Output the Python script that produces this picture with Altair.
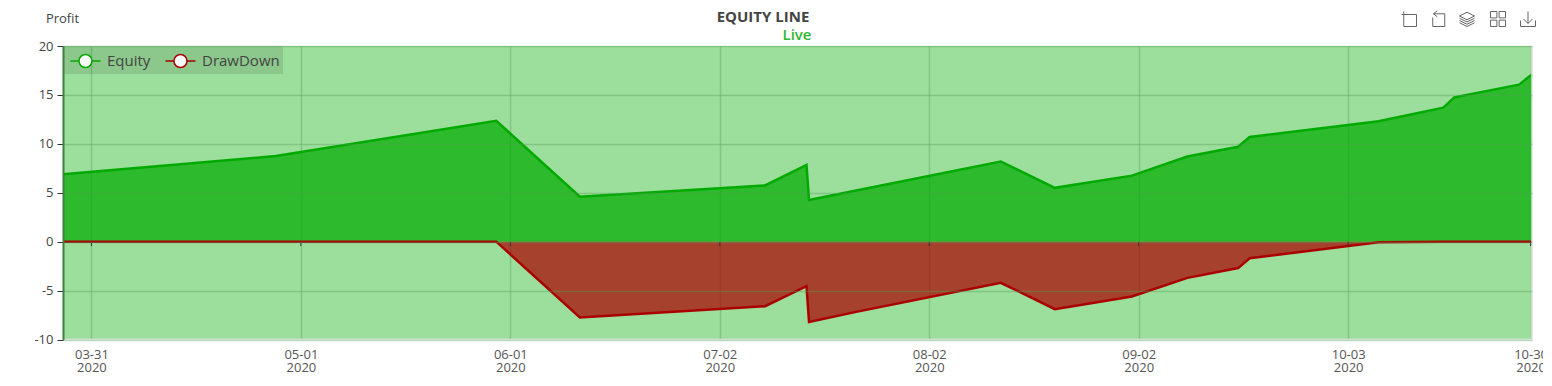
import altair as alt
import pandas as pd

FONT = "Open Sans"

equity_dates = ["2020-03-26T19:00:00Z", "2020-04-27T07:00:00Z", "2020-05-29T22:00:00Z", "2020-06-11T07:00:00Z",
                "2020-07-08T17:00:00Z", "2020-07-14T20:00:00Z", "2020-07-15T05:00:00Z", "2020-07-22T00:00:00Z",
                "2020-08-12T14:00:00Z", "2020-08-20T14:00:00Z", "2020-09-01T00:00:00Z", "2020-09-09T05:00:00Z",
                "2020-09-16T17:00:00Z", "2020-09-18T10:00:00Z", "2020-10-07T12:00:00Z", "2020-10-17T02:00:00Z",
                "2020-10-18T17:00:00Z", "2020-10-28T07:00:00Z", "2020-10-30T05:00:00Z"]
equity_values = [6.9, 8.75, 12.35, 4.6, 5.75, 7.85, 4.25, 5.2, 8.2, 5.5, 6.75, 8.7, 9.7, 10.7, 12.3, 13.7, 14.75, 16.05, 17.1]
drawdown_values = [0, 0, 0, -7.75, -6.6, -4.55, -8.2, -7.2, -4.2, -6.9, -5.6, -3.7, -2.7, -1.7, -0.05, 0, 0, 0, 0]
x_ticks = ["2020-03-31T00:00:00Z", "2020-05-01T00:00:00Z", "2020-06-01T00:00:00Z", "2020-07-02T00:00:00Z",
           "2020-08-02T00:00:00Z", "2020-09-02T00:00:00Z", "2020-10-03T00:00:00Z", "2020-10-30T00:00:00Z"]
y_ticks = [-10, -5, 0, 5, 10, 15, 20]
series_names = ["Equity", "DrawDown"]
series_colors = ["#00aa00", "#aa0000"]

LEGEND_SYMBOL = "M-0.67,0H0.14M1.38,0H2.19M1.38,0A0.62,0.62 0 1 1 0.14,0A0.62,0.62 0 1 1 1.38,0Z"
ICONS = [
    (1409, "M-0.7,-1V1H1V-0.6H-1"),
    (1438, "M-0.6,-0.7H0.9V1H-0.7V-0.2M-0.6,-0.7L-0.1,-1.1M-0.6,-0.7L-0.1,-0.3"),
    (1467, "M0,-0.9L1,-0.4L0,0.1L-1,-0.4ZM-1,-0.1L0,0.4L1,-0.1M-1,0.2L0,0.7L1,0.2M-1,0.5L0,1L1,0.5"),
    (1498, "M-1,-1H-0.15V-0.15H-1ZM0.15,-1H1V-0.15H0.15ZM-1,0.15H-0.15V1H-1ZM0.15,0.15H1V1H0.15Z"),
    (1528, "M-1,0.2V1H1V0.2M0,-1V0.6M-0.6,0L0,0.6L0.6,0"),
]

df = pd.DataFrame({"date": equity_dates, "Equity": equity_values, "DrawDown": drawdown_values})
long_df = df.melt("date", var_name="series", value_name="value")

x_scale = alt.Scale(type="utc", domain=[equity_dates[0], equity_dates[-1]], nice=False)
y_scale = alt.Scale(domain=[-10, 20], nice=False)

x_enc = alt.X("date:T", scale=x_scale, axis=alt.Axis(
    values=x_ticks, title=None, grid=True, gridColor="#5a9f5a", gridOpacity=0.38, gridWidth=1.5,
    ticks=False, domain=False, labelFont=FONT, labelFontSize=13, labelColor="#555555",
    labelPadding=9, labelOverlap=False, labelFlush=False, labelBound=False, labelLineHeight=13,
    labelExpr="[utcFormat(datum.value, '%m-%d'), utcFormat(datum.value, '%Y')]"))
y_enc = alt.Y("value:Q", scale=y_scale, axis=alt.Axis(
    values=y_ticks, title=None, grid=True, gridColor="#5a9f5a", gridOpacity=0.38, gridWidth=1.5,
    tickColor="#333333", tickSize=6, domainColor="#3f7f3f", domainWidth=2, zindex=1,
    labelFont=FONT, labelFontSize=13, labelColor="#444444", labelPadding=4, labelOverlap=False, labelBound=False,
    labelExpr="'' + datum.value"))

base = alt.Chart(long_df)
areas = [
    alt.Chart(df).transform_calculate(value=f"datum.{n}").mark_area(color=c, opacity=0.71, line=False).encode(x=x_enc, y=y_enc)
    for n, c in zip(series_names, series_colors)
]
lines = base.mark_line(strokeWidth=2.5, interpolate="linear").encode(
    x=x_enc, y=y_enc,
    stroke=alt.Stroke("series:N", scale=alt.Scale(domain=series_names, range=series_colors),
        legend=alt.Legend(
            orient="none", legendX=0, legendY=0, direction="horizontal", title=None,
            symbolType=LEGEND_SYMBOL, symbolSize=441, symbolFillColor="#ffffff", symbolStrokeWidth=1.5,
            labelFont=FONT, labelFontSize=15, labelColor="#444444", labelOffset=18, columnPadding=10,
            fillColor="rgba(0,0,0,0.1)", padding=3, symbolOpacity=1)),
)

tick_df = pd.DataFrame({"date": x_ticks, "value": [0.0] * len(x_ticks), "low": [-0.45] * len(x_ticks)})
zero_ticks = alt.Chart(tick_df).mark_rule(color="#333333", strokeWidth=1).encode(
    x=alt.X("date:T", scale=x_scale), y=alt.Y("value:Q", scale=y_scale), y2="low:Q")

edge_df = pd.DataFrame({"value": [y_ticks[0]]})
bottom_edge = alt.Chart(edge_df).mark_rule(color="#dfe6df", strokeWidth=1.5).encode(y=alt.Y("value:Q", scale=y_scale))
right_edge = alt.Chart(pd.DataFrame({"date": [equity_dates[-1]]})).mark_rule(color="#dfe6df", strokeWidth=1.5).encode(
    x=alt.X("date:T", scale=x_scale))


def label(text, px, py, **kw):
    return alt.Chart(pd.DataFrame({"t": [text]})).mark_text(font=FONT, text=text, **kw).encode(
        x=alt.value(px - 63), y=alt.value(py - 46))


texts = [
    label("EQUITY LINE", 763, 17, fontSize=15, fontWeight="bold", color="#444444", align="center", baseline="middle"),
    label("Live", 797, 35, fontSize=15, fontWeight=600, color="#2db82d", align="center", baseline="middle"),
    label("Profit", 62.5, 19, fontSize=13, color="#444444", align="center", baseline="middle"),
]
icons = [
    alt.Chart(pd.DataFrame({"t": [0]})).mark_point(shape=path, size=225, filled=False, stroke="#666666", strokeWidth=1, opacity=1).encode(
        x=alt.value(px - 63), y=alt.value(19 - 46))
    for px, path in ICONS
]

chart = alt.layer(*areas, lines, bottom_edge, right_edge, zero_ticks, *texts, *icons).properties(
    width=1469, height=293.5,
    padding={"left": 55, "top": 38, "right": 11, "bottom": 36},
    autosize=alt.AutoSizeParams(type="none"),
).configure_view(fill="#9cde9c", stroke=None)

chart.save("out.html", embed_options={"renderer": "svg", "actions": False})
